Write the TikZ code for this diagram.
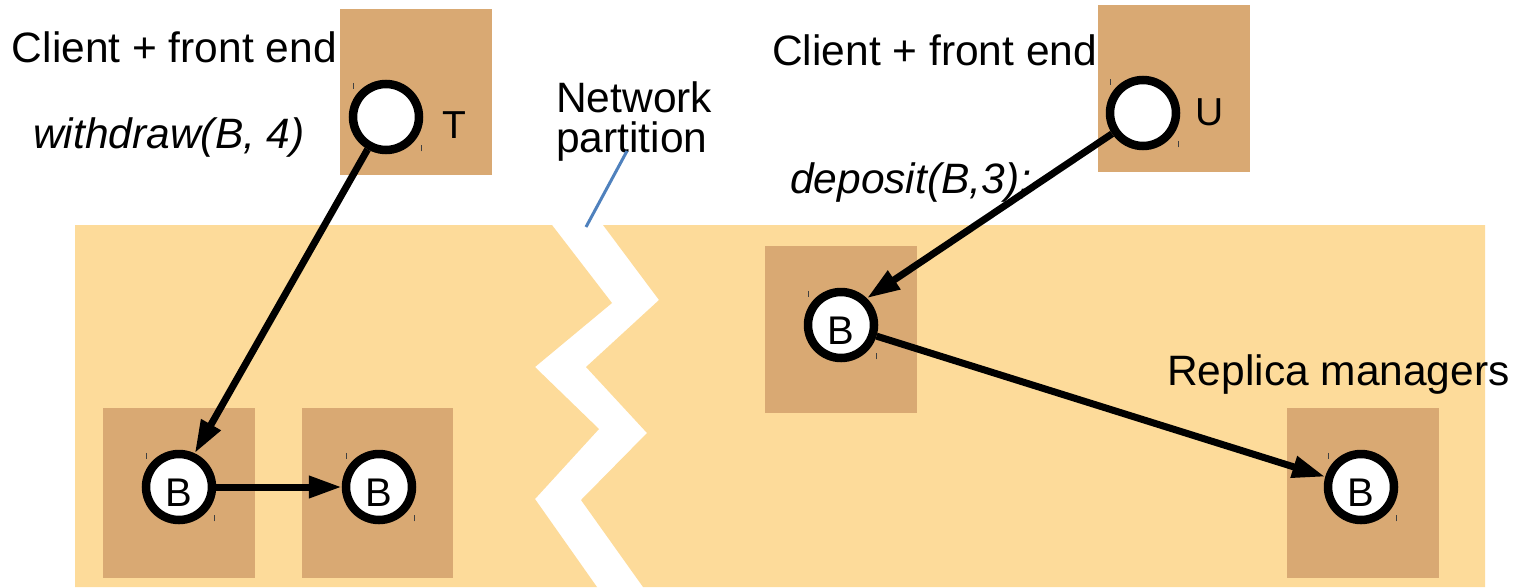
\documentclass[tikz,border=0pt]{standalone}
\usepackage{fontspec}
\setmainfont{Liberation Sans}
\usetikzlibrary{arrows.meta}
\definecolor{lightzone}{HTML}{FDDB9A}
\definecolor{darkbox}{HTML}{D9A973}
\definecolor{pointer}{HTML}{4F81BD}
\definecolor{tickgray}{HTML}{404040}
\tikzset{
  zone/.style={fill=lightzone, draw=none},
  procbox/.style={fill=darkbox, draw=none},
  proc/.style={circle, draw=black, line width=8.5pt, fill=white, minimum size=66pt, inner sep=0pt,
    font=\fontsize{40}{46}\selectfont},
  lbl/.style={font=\fontsize{42.5}{50}\selectfont, inner sep=0pt},
  ilbl/.style={font=\fontsize{42.5}{50}\selectfont\itshape, inner sep=0pt},
  letter/.style={font=\fontsize{39}{46}\selectfont, inner sep=0pt},
  arr/.style={line width=7pt, -{Triangle[length=33pt,width=21pt]}},
  tickmark/.style={draw=tickgray, line width=1pt},
}
\newcommand{\circticks}[1]{%
  \draw[tickmark] ([shift={(-33pt,-3pt)}]#1.north) -- ++(0pt,-6pt);
  \draw[tickmark] ([shift={(35pt,3pt)}]#1.south) -- ++(0pt,6pt);
}
\newcommand{\lowB}{\raisebox{-5pt}[28.6pt][0pt]{B}}
\begin{document}
\begin{tikzpicture}[x=1pt, y=-1pt]
\useasboundingbox (0,0) rectangle (1518,587);
% light zones split by the partition gap
\fill[zone] (75,225) -- (552,225) -- (612,303) -- (535,367) -- (599,429) -- (535,499) -- (597,587) -- (75,587) -- cycle;
\fill[zone] (603,225) -- (1485,225) -- (1485,587) -- (643,587) -- (581,500) -- (647,433) -- (586,367) -- (659,300) -- cycle;
% dark boxes
\fill[procbox] (340,9) rectangle (492,175);
\fill[procbox] (1098,5) rectangle (1250,172);
\fill[procbox] (765,246) rectangle (917,413);
\fill[procbox] (103,408) rectangle (255,578);
\fill[procbox] (302,408) rectangle (453,578);
\fill[procbox] (1287,408) rectangle (1439,578);
% processes
\node[proc] (T) at (386,117) {};
\node[proc] (U) at (1143,113) {};
\node[proc] (Bu) at (841,325) {\lowB};
\node[proc] (B1) at (179,487) {\lowB};
\node[proc] (B2) at (379,487) {\lowB};
\node[proc] (Br) at (1361,487) {\lowB};
\node[letter, anchor=base] (tl) at (454,138) {T};
\node[letter, anchor=base] (ul) at (1210,125) {U};
% ticks
\circticks{T}
\circticks{U}
\circticks{Bu}
\circticks{B1}
\circticks{B2}
\circticks{Br}
% labels
\node[lbl, anchor=base east] (cl) at (337,62) {Client + front end};
\node[ilbl, anchor=base west] (wd) at (33,148) {withdraw(B, 4)};
\node[lbl, anchor=base west] (np1) at (556,112) {Network};
\node[lbl, anchor=base west] (np2) at (556,152) {partition};
\node[lbl, anchor=base west] (cr) at (772,65) {Client + front end};
\node[ilbl, anchor=base west] (dp) at (790,193) {deposit(B,3);};
\node[lbl, anchor=base west] (rm) at (1167,385) {Replica managers};
% partition pointer
\coordinate (gap) at (586,227);
\draw[pointer, line width=3pt] (627,151) -- (gap);
% arrows
\draw[arr] (T) -- (B1.65);
\draw[arr] (B1) -- (B2);
\draw[arr] (U) -- (Bu.46);
\draw[arr] (Bu) -- (Br.164);
\end{tikzpicture}
\end{document}
